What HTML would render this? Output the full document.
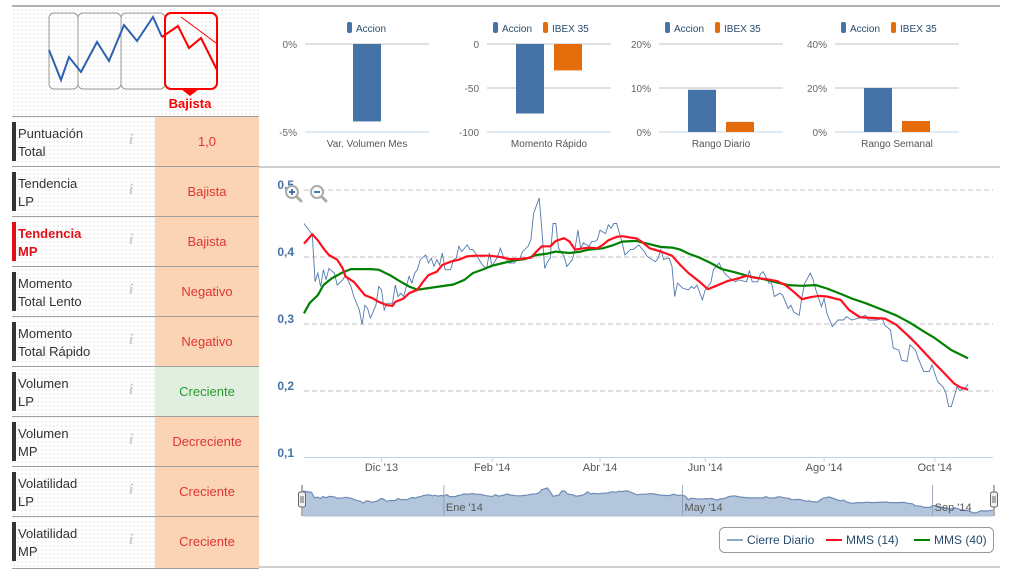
<!DOCTYPE html>
<html><head><meta charset="utf-8">
<style>
html,body{margin:0;padding:0;background:#fff;}
body{width:1012px;height:569px;position:relative;overflow:hidden;font-family:"Liberation Sans",sans-serif;}
.dots{position:absolute;left:12px;top:8px;width:247px;height:560px;background-image:radial-gradient(#ececec 0.8px,transparent 0.9px);background-size:4px 4px;}
.row{position:absolute;left:12px;width:247px;height:50px;border-top:1px solid #a0a0a0;}
.row .bar{position:absolute;left:0;top:5px;width:4px;height:39px;background:#333;}
.row .lbl{position:absolute;left:6px;top:8px;font-size:13px;line-height:18px;color:#333;}
.row .info{position:absolute;left:117px;top:15px;font-family:"Liberation Serif",serif;font-style:italic;font-weight:bold;font-size:15px;color:#ccc;}
.row .val{position:absolute;left:143px;top:0;width:104px;height:50px;background:#fad4b4;color:#e03535;font-size:13px;line-height:50px;text-align:center;}
.row .val.g{background:#e1efe0;color:#2a9a2a;}
svg{position:absolute;left:0;top:0;}
</style></head><body>
<div class="dots"></div>
<div class="row" style="top:116px"><div class="bar"></div><div class="lbl">Puntuación<br>Total</div><div class="info">i</div><div class="val">1,0</div></div>
<div class="row" style="top:166px"><div class="bar"></div><div class="lbl">Tendencia<br>LP</div><div class="info">i</div><div class="val">Bajista</div></div>
<div class="row" style="top:216px"><div class="bar" style="background:#e0101a"></div><div class="lbl" style="color:#e0101a;font-weight:bold">Tendencia<br>MP</div><div class="info">i</div><div class="val">Bajista</div></div>
<div class="row" style="top:266px"><div class="bar"></div><div class="lbl">Momento<br>Total Lento</div><div class="info">i</div><div class="val">Negativo</div></div>
<div class="row" style="top:316px"><div class="bar"></div><div class="lbl">Momento<br>Total Rápido</div><div class="info">i</div><div class="val">Negativo</div></div>
<div class="row" style="top:366px"><div class="bar"></div><div class="lbl">Volumen<br>LP</div><div class="info">i</div><div class="val g">Creciente</div></div>
<div class="row" style="top:416px"><div class="bar"></div><div class="lbl">Volumen<br>MP</div><div class="info">i</div><div class="val">Decreciente</div></div>
<div class="row" style="top:466px"><div class="bar"></div><div class="lbl">Volatilidad<br>LP</div><div class="info">i</div><div class="val">Creciente</div></div>
<div class="row" style="top:516px;height:51px;border-bottom:1px solid #a0a0a0"><div class="bar"></div><div class="lbl">Volatilidad<br>MP</div><div class="info">i</div><div class="val" style="height:51px">Creciente</div></div>

<svg id="s" width="1012" height="569" xmlns="http://www.w3.org/2000/svg">
<line x1="12" y1="6" x2="1000" y2="6" stroke="#999" stroke-width="1.5"/>
<line x1="259" y1="167" x2="1000" y2="167" stroke="#a0a0a0"/>
<line x1="259" y1="567" x2="1000" y2="567" stroke="#a0a0a0"/>
<g>
<rect x="49" y="13" width="29" height="76" rx="5" fill="none" stroke="#999"/>
<rect x="78" y="13" width="43" height="76" rx="5" fill="none" stroke="#999"/>
<rect x="121" y="13" width="44" height="76" rx="5" fill="none" stroke="#999"/>
<polyline points="49,50 61,80 69,57 81,72 97,42 109,61 124,25 137,41 153,17 162,37" fill="none" stroke="#2a62b0" stroke-width="2"/>
<rect x="165" y="13" width="52" height="76" rx="6" fill="none" stroke="#f00" stroke-width="2"/>
<polygon points="181,89 199,89 190,96" fill="#f00"/>
<polyline points="162,37 178,26 189,48 201,38 217,70" fill="none" stroke="#f00" stroke-width="2"/>
<line x1="181" y1="17" x2="216" y2="43" stroke="#f00" stroke-width="1"/>
<text x="190" y="108" text-anchor="middle" font-size="13" font-weight="bold" fill="#f00">Bajista</text>
</g>
<g id="mini"></g>
<g id="main"></g>
</svg>
<script>
// ---- mini bar chart data ----
const miniTitles = ["Var. Volumen Mes","Momento Rápido","Rango Diario","Rango Semanal"];
const miniAccion = [-4.4, -79, 9.6, 20];
const miniIbex = [null, -30, 2.3, 5.0];
const miniMin = [-5, -100, 0, 0];
const miniMax = [0, 0, 20, 40];
const miniTicks = [["0%","-5%"],["0","-50","-100"],["20%","10%","0%"],["40%","20%","0%"]];

// ---- main chart data (trading-day index, value) ----
const priceDays = [0,3,4,5,6,7,8,9,11,12,14,15,17,18,20,21,22,23,24,26,27,28,29,30,32,33,34,35,36,38,39,40,41,42,44,45,46,47,48,49,50,51,53,54,55,56,57,59,60,61,62,64,65,66,67,68,70,71,72,73,74,76,77,78,79,81,82,83,85,86,87,88,89,90,91,92,94,95,97,98,99,100,101,103,104,105,106,107,109,110,111,112,113,115,116,118,119,121,122,123,124,125,127,128,129,130,131,132,133,134,135,137,139,140,141,142,144,145,147,148,150,152,154,156,157,160,161,162,164,165,166,168,169,170,172,173,175,176,177,179,180,181,183,184,185,187,188,189,191,193,195,196,198,200,203,204,207,209,210,212,213,215,216,218,219,221,222,224,226,227,229,231,232,233,234,236,237,239,240];
const priceVals = [0.450,0.433,0.363,0.376,0.356,0.381,0.366,0.383,0.376,0.358,0.366,0.373,0.356,0.341,0.321,0.299,0.328,0.323,0.309,0.328,0.356,0.351,0.321,0.331,0.331,0.358,0.341,0.346,0.341,0.371,0.361,0.376,0.381,0.396,0.403,0.391,0.398,0.386,0.396,0.388,0.406,0.381,0.381,0.396,0.398,0.416,0.408,0.418,0.411,0.411,0.406,0.391,0.386,0.383,0.406,0.386,0.401,0.413,0.401,0.398,0.391,0.391,0.396,0.398,0.408,0.416,0.426,0.465,0.488,0.440,0.383,0.393,0.398,0.450,0.450,0.413,0.401,0.386,0.396,0.413,0.440,0.413,0.421,0.416,0.423,0.423,0.426,0.440,0.435,0.448,0.443,0.450,0.450,0.421,0.403,0.411,0.411,0.418,0.413,0.408,0.401,0.398,0.393,0.398,0.411,0.396,0.398,0.398,0.386,0.341,0.361,0.353,0.351,0.356,0.353,0.358,0.336,0.351,0.361,0.381,0.391,0.376,0.368,0.363,0.366,0.363,0.380,0.363,0.363,0.375,0.378,0.361,0.361,0.341,0.346,0.343,0.323,0.328,0.318,0.313,0.341,0.361,0.376,0.366,0.351,0.326,0.338,0.316,0.296,0.306,0.306,0.311,0.306,0.308,0.313,0.306,0.306,0.308,0.298,0.291,0.264,0.261,0.246,0.244,0.269,0.261,0.249,0.229,0.229,0.239,0.214,0.206,0.197,0.177,0.177,0.206,0.201,0.204,0.210];
const mms14Days = [0,3,5,7,9,12,14,15,18,20,22,25,27,30,32,33,36,38,41,43,45,48,50,53,56,59,62,67,71,74,78,82,84,86,89,91,94,96,98,101,103,106,108,110,113,115,118,120,122,125,129,133,136,139,143,146,149,153,156,160,163,167,171,174,177,180,183,186,189,194,197,201,206,210,214,218,221,225,228,232,235,237,240];
const mms14Vals = [0.420,0.434,0.425,0.413,0.403,0.396,0.383,0.371,0.363,0.353,0.343,0.338,0.333,0.328,0.327,0.333,0.338,0.346,0.351,0.363,0.373,0.378,0.388,0.393,0.396,0.401,0.402,0.402,0.400,0.397,0.397,0.399,0.408,0.416,0.416,0.424,0.428,0.423,0.411,0.413,0.414,0.413,0.418,0.425,0.430,0.431,0.429,0.428,0.423,0.413,0.408,0.402,0.388,0.376,0.363,0.352,0.357,0.364,0.367,0.372,0.369,0.367,0.364,0.358,0.348,0.337,0.340,0.342,0.341,0.336,0.321,0.310,0.309,0.308,0.299,0.284,0.272,0.254,0.241,0.224,0.211,0.206,0.202];
const mms40Days = [0,2,5,7,10,14,17,20,24,27,31,35,38,41,44,49,54,58,61,65,68,72,76,80,84,88,91,96,100,103,108,112,115,120,124,129,133,136,139,143,147,151,156,161,166,171,175,180,185,189,194,198,203,208,214,219,224,228,234,240];
const mms40Vals = [0.316,0.331,0.343,0.358,0.368,0.377,0.382,0.382,0.382,0.381,0.373,0.363,0.356,0.351,0.353,0.356,0.359,0.366,0.376,0.382,0.387,0.391,0.395,0.397,0.403,0.405,0.408,0.406,0.408,0.411,0.413,0.418,0.423,0.424,0.420,0.415,0.414,0.411,0.405,0.399,0.391,0.382,0.377,0.371,0.367,0.362,0.358,0.357,0.358,0.353,0.345,0.338,0.331,0.323,0.313,0.302,0.289,0.279,0.261,0.249];
const yTicks = [0.5,0.4,0.3,0.2,0.1];
const yTickLabels = ["0,5","0,4","0,3","0,2","0,1"];
const xTickDays = [28,68,107,145,188,228];
const xTickLabels = ["Dic '13","Feb '14","Abr '14","Jun '14","Ago '14","Oct '14"];
const navTickDays = [49,132,219];
const navTickLabels = ["Ene '14","May '14","Sep '14"];

const NS="http://www.w3.org/2000/svg";
function mk(parent,tag,attrs,txt){const e=document.createElementNS(NS,tag);for(const k in attrs)e.setAttribute(k,attrs[k]);if(txt!==undefined)e.textContent=txt;parent.appendChild(e);return e;}

// mini charts
const mini=document.getElementById('mini');
const miniLeft=[305,487,659,835], miniW=124, mTop=44, mBot=132;
for(let c=0;c<4;c++){
  const g=mk(mini,'g',{});
  
  
  const x0=miniLeft[c];
  const ys=v=>mTop+(miniMax[c]-v)/(miniMax[c]-miniMin[c])*(mBot-mTop);
  const nt=miniTicks[c].length;
  for(let i=0;i<nt;i++){
    const y=mTop+i*(mBot-mTop)/(nt-1);
    const gl=mk(g,'line',{x1:x0,x2:x0+miniW,y1:y,y2:y,stroke:i==nt-1?'#c0d0e0':'#c0c0c0'});
    
    
    const t=mk(g,'text',{x:x0-8,y:y+4,'text-anchor':'end','font-size':'10','fill':'#666'},miniTicks[c][i]);
    
    
  }
  const hasIbex=miniIbex[c]!==null;
  const cx=x0+miniW/2;
  const bw=28;
  const ax=hasIbex?cx-bw-5:cx-bw/2;
  const zero=ys(Math.max(miniMin[c],Math.min(0,miniMax[c])));
  const ya=ys(miniAccion[c]);
  const b1=mk(g,'rect',{x:ax,y:Math.min(ya,zero),width:bw,height:Math.abs(ya-zero),fill:'#4572a7'});
  
  
  if(hasIbex){
    const yi=ys(miniIbex[c]);
    const b2=mk(g,'rect',{x:cx+5,y:Math.min(yi,zero),width:bw,height:Math.abs(yi-zero),fill:'#e46c0a'});
    
    
  }
  const tt=mk(g,'text',{x:cx,y:147,'text-anchor':'middle','font-size':'10','fill':'#555'},miniTitles[c]);
  
  
  const lx=hasIbex?cx-56:cx-20;
  const l1=mk(g,'g',{});
  
  
  mk(l1,'rect',{x:lx,y:22,width:5,height:11,rx:2,fill:'#4572a7'});
  mk(l1,'text',{x:lx+9,y:32,'font-size':'10','fill':'#274b6d'},'Accion');
  if(hasIbex){
    const l2=mk(g,'g',{});
    
    
    mk(l2,'rect',{x:lx+50,y:22,width:5,height:11,rx:2,fill:'#e46c0a'});
    mk(l2,'text',{x:lx+59,y:32,'font-size':'10','fill':'#274b6d'},'IBEX 35');
  }
}

// main chart
const main=document.getElementById('main');
const X0=304,X1=968,D0=0,D1=240,PL=304,PR=993;
const xs=d=>X0+(d-D0)/(D1-D0)*(X1-X0);
const ys=v=>190+(0.5-v)*670;
for(let i=0;i<yTicks.length;i++){
  const y=ys(yTicks[i]);
  if(i<yTicks.length-1){
    const gl=mk(main,'line',{x1:PL,x2:PR,y1:y,y2:y,stroke:'#c0c0c0','stroke-dasharray':'5,3'});
    
    
  }
  const t=mk(main,'text',{x:294,y:y-1,'text-anchor':'end','font-size':'12','font-weight':'bold',fill:'#4572a7'},yTickLabels[i]);
  
  
}
const ax=mk(main,'line',{x1:PL,x2:PR,y1:457.5,y2:457.5,stroke:'#c0d0e0'});


for(let i=0;i<xTickDays.length;i++){
  const x=xs(xTickDays[i]);
  mk(main,'line',{x1:x,x2:x,y1:457,y2:462,stroke:'#c0d0e0'});
  const t=mk(main,'text',{x:x,y:471,'text-anchor':'middle','font-size':'11',fill:'#555'},xTickLabels[i]);
  
  
}
function path(days,vals,fx,fy){return days.map((d,i)=>(i?'L':'M')+fx(d).toFixed(1)+','+fy(vals[i]).toFixed(1)).join(' ');}
const pl=mk(main,'path',{d:path(priceDays,priceVals,xs,ys),fill:'none',stroke:'#5479ad','stroke-width':'0.9'});


const gr=mk(main,'path',{d:path(mms40Days,mms40Vals,xs,ys),fill:'none',stroke:'#008000','stroke-width':'2.2','stroke-linejoin':'round'});


const rd=mk(main,'path',{d:path(mms14Days,mms14Vals,xs,ys),fill:'none',stroke:'#ff1020','stroke-width':'2.2','stroke-linejoin':'round'});



function zoomIcon(cx,cy,plus,name){
  const g=mk(main,'g',{});
  
  
  mk(g,'line',{x1:cx+4,y1:cy+4,x2:cx+9,y2:cy+9,stroke:'#aaa','stroke-width':'3','stroke-linecap':'round'});
  mk(g,'circle',{cx:cx,cy:cy,r:6,fill:'#fff',stroke:'#aaa','stroke-width':'2'});
  mk(g,'line',{x1:cx-3,y1:cy,x2:cx+3,y2:cy,stroke:'#4572a7','stroke-width':'2'});
  if(plus)mk(g,'line',{x1:cx,y1:cy-3,x2:cx,y2:cy+3,stroke:'#4572a7','stroke-width':'2'});
}
zoomIcon(292,192,true,'zoom-in-button');
zoomIcon(317,192,false,'zoom-out-button');

const nav=mk(main,'g',{});


const NX0=303,NX1=993,NT=485,NB=516;
const nxs=d=>NX0+(d-D0)/(D1-D0)*(NX1-NX0);
const nys=v=>488+(0.488-v)*80;
mk(nav,'path',{d:path(priceDays,priceVals,nxs,nys)+' L'+nxs(D1)+','+NB+' L'+nxs(D0)+','+NB+' Z',fill:'#b4c6dc',stroke:'none'});
mk(nav,'path',{d:path(priceDays,priceVals,nxs,nys),fill:'none',stroke:'#6f8cb8','stroke-width':'1.2'});
for(let i=0;i<navTickDays.length;i++){
  const x=nxs(navTickDays[i]);
  mk(nav,'line',{x1:x,x2:x,y1:NT,y2:NB,stroke:'#8a9ab0','stroke-width':'0.8'});
  const t=mk(nav,'text',{x:x+2,y:511,'font-size':'11',fill:'#555'},navTickLabels[i]);
  
  
}
mk(nav,'line',{x1:NX0,x2:NX1,y1:NB,y2:NB,stroke:'#b0b8c8'});
function handle(x,name){
  const h=mk(nav,'g',{});
  
  
  mk(h,'line',{x1:x,x2:x,y1:NT,y2:NB,stroke:'#666'});
  mk(h,'rect',{x:x-3.5,y:492,width:7,height:15,rx:2,fill:'#f2f2f2',stroke:'#666'});
  mk(h,'line',{x1:x-1,x2:x-1,y1:496,y2:503,stroke:'#666'});
  mk(h,'line',{x1:x+1,x2:x+1,y1:496,y2:503,stroke:'#666'});
}
handle(302,'navigator-handle-left');
handle(994,'navigator-handle-right');

const lg=mk(main,'g',{});


mk(lg,'rect',{x:719.5,y:527.5,width:274,height:25,rx:5,fill:'#fff',stroke:'#999'});
const legNames=["Cierre Diario","MMS (14)","MMS (40)"];
const legColors=["#8fa8c8","#ff1020","#008000"];
const legX=[727,826,914];
for(let i=0;i<3;i++){
  const e=mk(lg,'g',{});
  
  
  mk(e,'line',{x1:legX[i],x2:legX[i]+16,y1:540,y2:540,stroke:legColors[i],'stroke-width':'2'});
  mk(e,'text',{x:legX[i]+20,y:544,'font-size':'12',fill:'#274b6d'},legNames[i]);
}
</script>
</body></html>
